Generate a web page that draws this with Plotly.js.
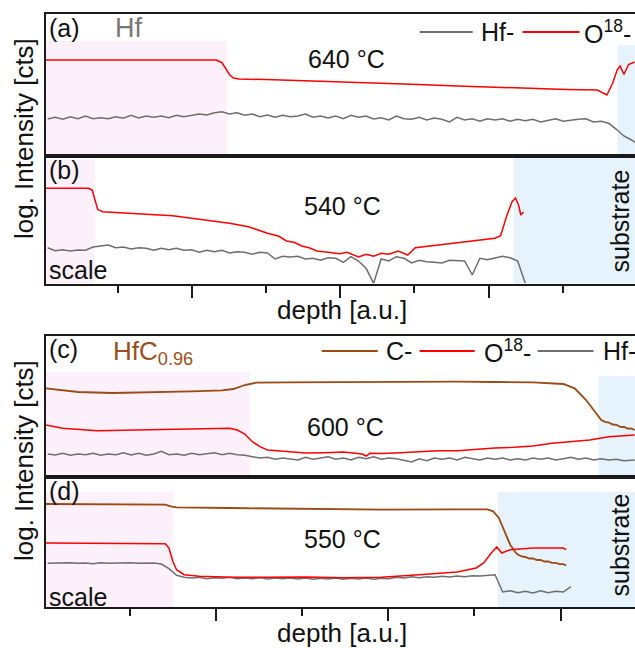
<!DOCTYPE html>
<html>
<head>
<meta charset="utf-8">
<script src="https://cdn.plot.ly/plotly-3.0.1.min.js"></script>
<style>
  html, body { margin: 0; padding: 0; background: #fff; overflow: hidden; }
  #chart { width: 640px; height: 648px; }
</style>
</head>
<body>
<div id="chart"></div>
<script>
// ---------------- DATA (depth in a.u., log intensity in arbitrary units) ----------------
// shared depth grid for the noisy Hf- traces of the top group (panels a, b)
const depthTop = [0.028,0.079,0.130,0.181,0.232,0.283,0.334,0.385,0.436,0.487,0.538,0.590,0.641,0.692,0.743,0.794,0.845,0.896,0.947,0.998,
1.050,1.101,1.152,1.203,1.254,1.305,1.356,1.407,1.458,1.510,1.561,1.612,1.663,1.714,1.765,1.816,1.867,1.918,1.970,2.021,
2.072,2.123,2.174,2.225,2.276,2.327,2.378,2.430,2.481,2.532,2.583,2.634,2.685,2.736,2.787,2.838,2.890,2.941,2.992,3.043,
3.094,3.145,3.196,3.247,3.298,3.350,3.401,3.452,3.503,3.554,3.605,3.656,3.707,3.758,3.810,3.861,3.912,3.963,3.995];

// shared depth grid for the noisy Hf- traces of the bottom group (panels c, d)
const depthBot = [0.024,0.068,0.112,0.156,0.200,0.244,0.288,0.332,0.376,0.420,0.464,0.508,0.552,0.596,0.640,0.684,0.728,0.772,0.816,0.860,
0.904,0.948,0.992,1.036,1.080,1.124,1.168,1.212,1.256,1.300,1.344,1.388,1.432,1.476,1.520,1.564,1.608,1.652,1.696,1.740,
1.784,1.828,1.872,1.916,1.960,2.004,2.048,2.092,2.136,2.180,2.224,2.268,2.312,2.356,2.400,2.444,2.488,2.532,2.576,2.620,
2.664,2.708,2.752,2.796,2.840,2.884,2.928,2.972,3.016,3.060,3.104,3.148,3.192,3.236,3.280,3.324,3.368,3.412,3.430];

// (a) Hf, 640 °C
const hfA = [3.70,3.87,3.67,3.93,3.73,4.00,3.73,3.83,3.73,3.93,3.77,4.07,3.80,4.00,3.87,4.00,3.83,4.07,3.93,4.03,
4.20,4.10,4.33,4.43,4.20,4.33,4.07,4.20,3.93,4.10,3.87,4.07,3.93,4.00,4.20,3.87,4.00,3.80,4.00,3.73,
4.07,3.87,4.00,3.70,3.83,3.60,4.00,3.73,3.67,3.87,3.60,3.80,3.67,3.40,3.87,3.60,3.73,3.47,3.73,3.60,
3.73,3.47,3.67,3.53,3.67,3.40,3.60,3.73,3.47,3.60,3.67,3.73,3.40,3.47,3.27,2.67,2.00,1.60,1.27];
const o18A_x = [0.017,1.165,1.203,1.229,1.254,1.280,1.318,1.50,1.765,2.02,2.277,2.53,2.788,3.04,3.299,3.52,3.733,3.772,3.797,3.836,3.866,3.886,3.912,3.943,3.984];
const o18A_y = [9.60,9.60,9.33,8.77,8.13,7.80,7.70,7.64,7.53,7.41,7.30,7.16,7.00,6.86,6.73,6.66,6.60,6.33,6.10,7.27,8.60,9.00,8.15,9.15,9.40];

// (b) Hf, 540 °C
const hfB = [3.58,3.28,3.38,3.25,3.35,3.32,3.65,3.72,3.85,3.58,3.65,3.45,3.58,3.52,3.32,3.52,3.38,3.52,3.32,3.38,
3.12,3.32,3.18,3.32,3.05,3.18,3.12,2.92,3.12,3.05,2.45,2.72,2.65,2.72,2.45,2.52,2.32,2.58,2.52,2.12,
2.68,2.25,1.52,0.02,2.45,2.25,2.68,2.52,2.05,2.32,2.18,2.12,2.05,2.32,2.25,2.25,0.85,2.52,2.38,2.58,
2.72,2.58,2.25,0.02,null,null,null,null,null,null,null,null,null,null,null,null,null,null,null];
const o18B_x = [0.017,0.304,0.329,0.350,0.365,0.398,0.615,0.871,0.999,1.126,1.254,1.382,1.510,1.586,1.638,1.689,1.740,1.791,1.842,1.919,
1.995,2.046,2.123,2.174,2.225,2.277,2.328,2.391,2.455,2.506,2.583,2.685,2.788,2.915,3.043,3.081,3.120,3.158,3.181,3.202,3.217,3.235];
const o18B_y = [9.52,9.52,9.32,8.18,7.42,7.18,7.02,6.78,6.52,6.28,6.02,5.68,5.02,4.72,4.25,4.12,3.75,3.58,3.25,3.12,
2.98,3.12,2.65,2.92,2.72,3.02,2.92,3.25,2.85,3.58,3.72,3.85,4.02,4.25,4.52,4.78,6.68,8.18,8.55,7.85,6.85,7.15];

// (c) HfC0.96, 600 °C
const cC_x = [0.013,0.200,0.400,0.640,0.860,1.036,1.102,1.168,1.234,1.410,1.680,1.960,2.180,2.400,2.620,2.840,3.016,3.082,3.148,3.214,
3.236,3.258,3.280,3.302,3.324,3.346,3.368,3.390,3.412,3.430];
const cC_y = [8.87,8.50,8.40,8.47,8.57,8.67,8.80,9.20,9.43,9.47,9.50,9.53,9.52,9.53,9.50,9.47,9.30,8.87,7.70,6.20,
5.70,5.52,5.45,5.25,5.22,5.02,5.00,4.85,4.84,4.70];
const o18C_x = [0.013,0.112,0.310,0.530,0.750,0.970,1.080,1.124,1.168,1.212,1.256,1.300,1.410,1.520,1.630,1.740,1.850,1.872,1.894,1.960,
2.070,2.180,2.290,2.400,2.510,2.620,2.730,2.840,2.950,3.060,3.170,3.280,3.430];
const o18C_y = [5.20,4.87,4.63,4.70,4.77,4.83,4.87,4.70,4.30,3.53,3.03,2.70,2.53,2.40,2.43,2.50,2.30,2.10,2.37,2.35,
2.43,2.55,2.63,2.62,2.77,2.90,2.97,3.10,3.37,3.55,3.70,4.03,4.20];
const hfC = [2.30,2.20,2.37,2.17,2.30,2.23,2.37,2.17,2.30,2.23,2.43,2.20,2.37,2.17,2.30,2.57,2.23,2.30,2.17,2.37,
2.23,2.30,2.43,2.23,2.37,2.23,2.17,2.03,1.90,1.97,1.77,1.90,1.83,1.70,1.97,1.77,1.90,2.03,1.77,1.90,
1.70,1.97,1.83,2.03,1.77,1.90,1.83,1.63,1.50,1.83,1.63,1.90,1.77,1.90,1.70,1.97,1.83,1.70,1.90,1.77,
1.90,1.70,1.83,1.70,1.90,1.77,1.90,1.70,1.83,1.97,1.77,1.90,1.70,1.83,1.70,1.77,1.63,1.70,1.70];

// (d) HfC0.96, 550 °C
const cD_x = [0.013,0.640,0.706,0.739,0.772,1.080,1.520,1.960,2.400,2.576,2.609,2.642,2.675,2.708,2.741,2.752,2.774,2.796,2.818,2.840,
2.862,2.884,2.906,2.928,2.950,2.972,2.994,3.016,3.033];
const cD_y = [10.30,10.30,10.23,10.07,9.97,9.90,9.80,9.73,9.77,9.77,9.57,8.90,7.57,6.23,5.40,5.25,5.05,5.00,4.85,4.85,
4.70,4.70,4.55,4.55,4.42,4.42,4.28,4.28,4.15];
const o18D_x = [0.013,0.706,0.728,0.750,0.772,0.816,0.904,1.100,1.300,1.520,1.740,1.960,2.180,2.400,2.510,2.554,2.598,2.630,2.659,2.708,2.840,3.016,3.033];
const o18D_y = [6.40,6.33,5.90,4.57,3.73,3.23,3.07,2.97,2.97,3.00,2.92,2.97,3.23,3.50,3.90,4.40,5.40,6.00,5.40,5.73,5.90,5.90,5.73];
const hfD = [4.37,4.40,4.37,4.43,4.37,4.40,4.33,4.43,4.37,4.40,4.37,4.43,4.37,4.40,4.40,4.30,3.83,3.17,2.97,2.90,
2.97,2.83,2.93,2.87,2.97,2.83,2.90,2.83,2.93,2.80,2.90,2.83,2.90,2.80,2.90,2.77,2.87,2.80,2.90,2.77,
2.87,2.80,2.90,2.77,2.87,2.83,2.97,2.90,3.03,2.93,3.03,2.97,3.07,3.00,3.10,3.03,3.13,3.10,3.17,3.23,
1.50,1.63,1.43,1.57,1.40,1.63,1.43,1.57,1.50,2.03,null,null,null,null,null,null,null,null,null];

// labels
const seriesNames = ["Hf-", "O<sup>18</sup>-", "C-"];
const panelLabels = ["(a)", "(b)", "(c)", "(d)"];
const temps = ["640 °C", "540 °C", "600 °C", "550 °C"];

// ---------------- STYLE ----------------
const RED = "#ff0000", GRAY = "#6e6e6e", BROWN = "#9a4a12";
const FONT = "Liberation Sans, Arial, sans-serif";
const W = 640, H = 648, L = 46, R = 2.5, T = 14, B = 41;
const PW = W - L - R, PH = H - T - B;
const P = px => (px - L) / PW;           // pixel -> paper x
const Q = py => (H - B - py) / PH;       // pixel -> paper y

function tr(x, y, xa, ya, color, name, w) {
  return {x: x, y: y, xaxis: xa, yaxis: ya, type: "scatter", mode: "lines",
          name: name, line: {color: color, width: w || 1.5}, connectgaps: false,
          hoverinfo: "skip", showlegend: false};
}

const data = [
  tr(depthTop, hfA, "x", "y", GRAY, "Hf-"),
  tr(o18A_x, o18A_y, "x", "y", RED, "O18-"),
  tr(depthTop, hfB, "x2", "y2", GRAY, "Hf-"),
  tr(o18B_x, o18B_y, "x2", "y2", RED, "O18-"),
  tr(cC_x, cC_y, "x3", "y3", BROWN, "C-", 1.8),
  tr(depthBot, hfC, "x3", "y3", GRAY, "Hf-"),
  tr(o18C_x, o18C_y, "x3", "y3", RED, "O18-"),
  tr(cD_x, cD_y, "x4", "y4", BROWN, "C-", 1.8),
  tr(depthBot, hfD, "x4", "y4", GRAY, "Hf-"),
  tr(o18D_x, o18D_y, "x4", "y4", RED, "O18-")
];

const frame = {showline: true, mirror: true, linecolor: "#1a1a1a", linewidth: 2,
               showgrid: false, zeroline: false, showticklabels: false, ticks: "", fixedrange: true};
function xax(range, anchor, withTicks, minorVals) {
  const a = Object.assign({}, frame, {range: range, anchor: anchor, domain: [0, 1]});
  if (withTicks) {
    Object.assign(a, {ticks: "outside", tickmode: "array", tickvals: [1, 2, 3],
      ticklen: 12, tickwidth: 2, tickcolor: "#1a1a1a",
      minor: {tickmode: "array", tickvals: minorVals, ticks: "outside", ticklen: 7, tickwidth: 2, tickcolor: "#1a1a1a", showgrid: false}});
  }
  return a;
}
function yax(range, anchor, domain) {
  return Object.assign({}, frame, {range: range, anchor: anchor, domain: domain});
}

const rangeTop = [0.017, 4.0];
const rangeBot = [0.0145, 3.4435];

const PINK = "#fcf0fa", BLUE = "#e6f3fc";
function band(xref, yref, x0, x1, ytop, color) {
  return {type: "rect", xref: xref, yref: yref + " domain", x0: x0, x1: x1, y0: 0, y1: ytop,
          fillcolor: color, line: {width: 0}, layer: "below"};
}
function keyLine(x0, x1, y, color) {
  return {type: "line", xref: "paper", yref: "paper", x0: P(x0), x1: P(x1), y0: Q(y), y1: Q(y),
          line: {color: color, width: 1.8}};
}

const shapes = [
  band("x", "y", 0, 1.236, 0.81, PINK),
  band("x", "y", 3.868, 4.2, 0.78, BLUE),
  band("x2", "y2", 0, 0.347, 0.97, PINK),
  band("x2", "y2", 3.168, 4.2, 0.985, BLUE),
  band("x3", "y3", 0, 1.197, 0.745, PINK),
  band("x3", "y3", 3.220, 3.6, 0.716, BLUE),
  band("x4", "y4", 0, 0.751, 0.885, PINK),
  band("x4", "y4", 2.635, 3.6, 0.885, BLUE),
  keyLine(420, 473, 32, GRAY),
  keyLine(523, 580, 32, RED),
  keyLine(322, 378, 351, BROWN),
  keyLine(420, 475, 351, RED),
  keyLine(538, 594, 351, GRAY)
];

function ann(text, x, y, opts) {
  return Object.assign({text: text, x: P(x), y: Q(y), xref: "paper", yref: "paper",
    showarrow: false, xanchor: "left", yanchor: "middle",
    font: {family: FONT, size: 25, color: "#111"}}, opts || {});
}
const big = {family: FONT, size: 26, color: "#111"};
const annotations = [
  ann(panelLabels[0], 47, 28),
  ann("Hf", 113, 28, {font: {family: FONT, size: 27, color: "#777"}}),
  ann(temps[0], 347, 59, {xanchor: "center"}),
  ann(seriesNames[0], 479, 32),
  ann(seriesNames[1], 582, 32),
  ann(panelLabels[1], 47, 170),
  ann(temps[1], 343, 206, {xanchor: "center"}),
  ann("scale", 47, 270),
  ann("substrate", 620, 221, {xanchor: "center", textangle: -90}),
  ann("depth [a.u.]", 342, 310, {xanchor: "center", font: big}),
  ann("log. Intensity [cts]", 24, 139, {xanchor: "center", textangle: -90, font: big}),
  ann(panelLabels[2], 47, 349),
  ann("HfC<sub>0.96</sub>", 111, 352, {font: {family: FONT, size: 26, color: "#9c4f1c"}}),
  ann(seriesNames[2], 384, 351),
  ann(seriesNames[1], 482, 351),
  ann(seriesNames[0], 601, 351),
  ann(temps[2], 346, 427, {xanchor: "center"}),
  ann(panelLabels[3], 47, 491),
  ann(temps[3], 343, 539, {xanchor: "center"}),
  ann("scale", 47, 597),
  ann("substrate", 620, 545, {xanchor: "center", textangle: -90}),
  ann("depth [a.u.]", 342, 633, {xanchor: "center", font: big}),
  ann("log. Intensity [cts]", 24, 461, {xanchor: "center", textangle: -90, font: big})
];

const layout = {
  width: W, height: H,
  margin: {l: L, r: R, t: T, b: B, pad: 0},
  paper_bgcolor: "#fff", plot_bgcolor: "rgba(0,0,0,0)",
  showlegend: false, hovermode: false,
  font: {family: FONT, size: 25, color: "#111"},
  xaxis:  xax(rangeTop, "y", false),
  xaxis2: xax(rangeTop, "y2", true, [0.5, 1.5, 2.5, 3.5]),
  xaxis3: xax(rangeBot, "y3", false),
  xaxis4: xax(rangeBot, "y4", true, [0.5, 1.5, 2.5]),
  yaxis:  yax([0, 14.2], "x", [Q(156), 1]),
  yaxis2: yax([0, 12.75], "x2", [Q(283.5), Q(156)]),
  yaxis3: yax([0, 14.1], "x3", [Q(477), Q(336)]),
  yaxis4: yax([0, 13.0], "x4", [0, Q(477)]),
  shapes: shapes,
  annotations: annotations
};

Plotly.newPlot("chart", data, layout, {staticPlot: true, displayModeBar: false});
</script>
</body>
</html>
